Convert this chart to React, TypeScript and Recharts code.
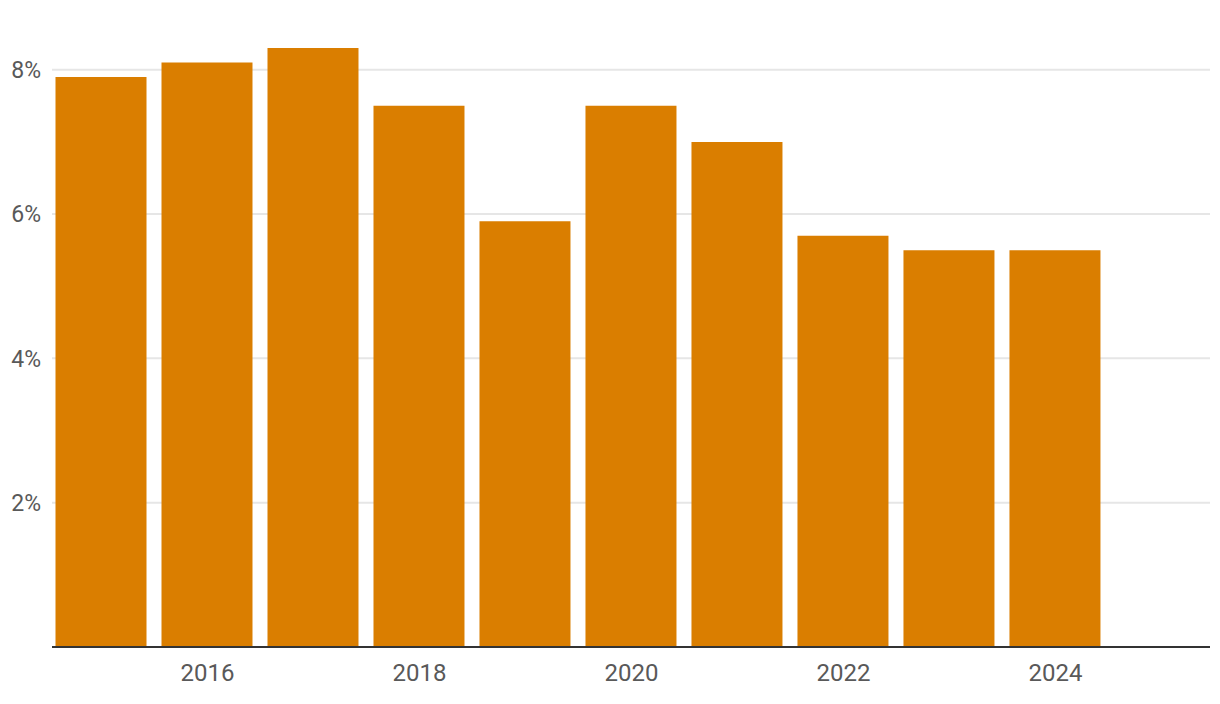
import { Bar, BarChart, CartesianGrid, XAxis, YAxis } from 'recharts'

const YEARS = [2015, 2016, 2017, 2018, 2019, 2020, 2021, 2022, 2023, 2024]
const RATES = [7.9, 8.1, 8.3, 7.5, 5.9, 7.5, 7.0, 5.7, 5.5, 5.5]
const X_TICKS = [2016, 2018, 2020, 2022, 2024]
const Y_TICKS = [2, 4, 6, 8]

const data = YEARS.map((year, i) => ({ year, rate: RATES[i] }))

const BAR_COLOR = '#da7e00'

const yTickStyle = {
  fill: '#595959',
  fontFamily: 'Roboto, sans-serif',
  fontSize: 23,
}

const xTickStyle = { ...yTickStyle, fontSize: 24 }

export default function App() {
  return (
    <div style={{ position: 'absolute', left: 0, top: 0, background: '#ffffff' }}>
      <BarChart width={1220} height={704} data={data} margin={{ top: 12, right: 10, bottom: 0, left: 0 }}>
        <CartesianGrid stroke="#e6e6e6" strokeWidth={2} vertical={false} horizontalValues={Y_TICKS} />
        <XAxis
          dataKey="year"
          type="number"
          domain={[2014.533, 2025.458]}
          allowDataOverflow
          ticks={X_TICKS}
          height={57}
          axisLine={{ stroke: '#333333', strokeWidth: 2 }}
          tickLine={false}
          tickMargin={11}
          tick={xTickStyle}
        />
        <YAxis
          type="number"
          domain={[0, 8.8]}
          allowDataOverflow
          ticks={Y_TICKS}
          width={52}
          axisLine={false}
          tickLine={false}
          tickMargin={5}
          tick={yTickStyle}
          tickFormatter={(v) => `${v}%`}
        />
        <Bar dataKey="rate" fill={BAR_COLOR} barSize={91} isAnimationActive={false} />
      </BarChart>
    </div>
  )
}
